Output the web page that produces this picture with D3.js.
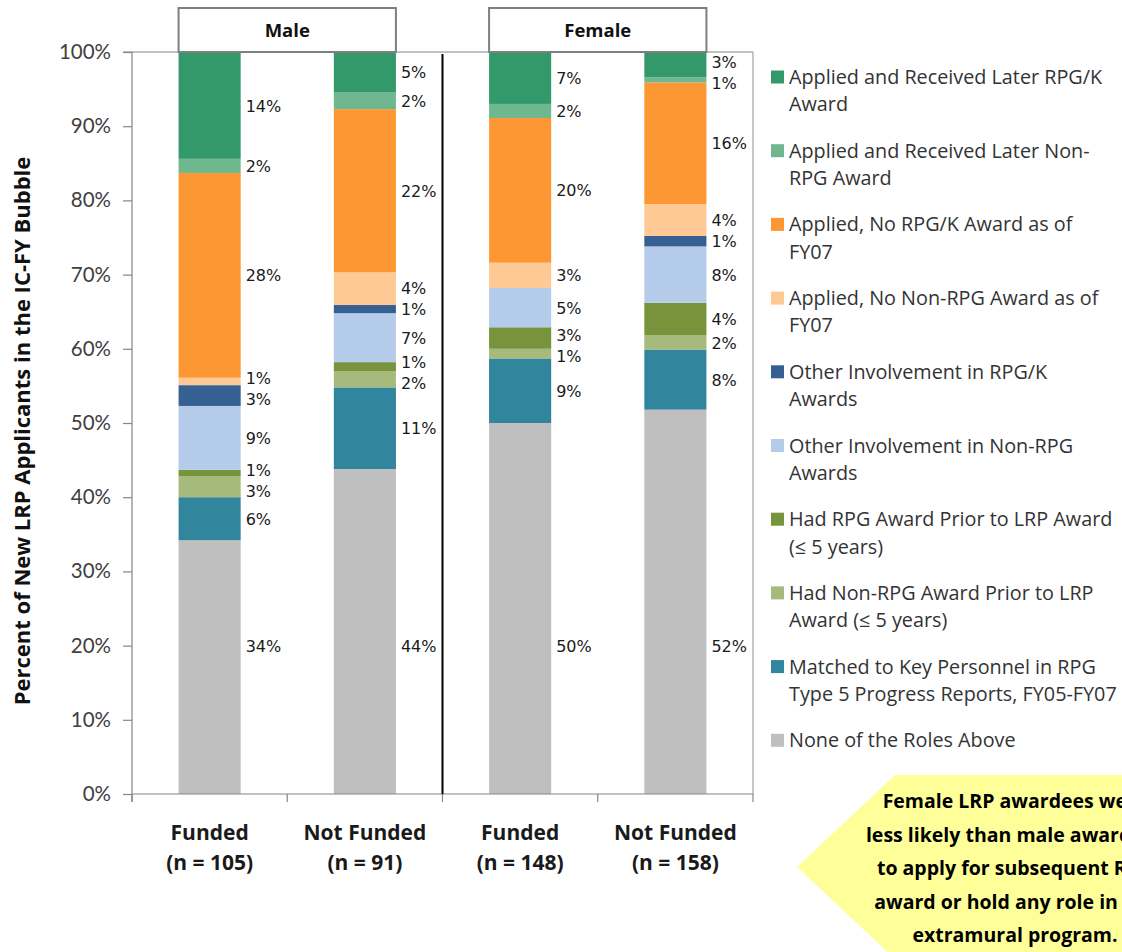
<!DOCTYPE html>
<html>
<head>
<meta charset="utf-8">
<script src="https://cdn.jsdelivr.net/npm/d3@7"></script>
<style>
  html, body { margin: 0; padding: 0; background: #fff; }
  svg { display: block; }
</style>
</head>
<body>
<script>
// ---------------- DATA ----------------
const categories = ["Funded", "Not Funded", "Funded", "Not Funded"];
const sampleSizes = ["(n = 105)", "(n = 91)", "(n = 148)", "(n = 158)"];
const groups = ["Male", "Male", "Female", "Female"];

// series, bottom-up stacking order (percent of applicants)
const noneOfRoles        = [34.2, 43.8, 50.0, 51.8];
const matchedKeyPersonnel = [5.8, 11.0, 8.7, 8.1];
const nonRpgPrior        = [2.8, 2.2, 1.3, 1.9];
const rpgPrior           = [0.9, 1.2, 2.9, 4.4];
const otherNonRpg        = [8.6, 6.6, 5.3, 7.6];
const otherRpgK          = [2.8, 1.1, 0.0, 1.4];
const appliedNoNonRpg    = [1.0, 4.4, 3.4, 4.3];
const appliedNoRpgK      = [27.6, 22.0, 19.5, 16.4];
const laterNonRpg        = [1.9, 2.3, 1.9, 0.7];
const laterRpgK          = [14.4, 5.4, 7.0, 3.4];

const seriesKeys = ["none", "matched", "nonRpgPrior", "rpgPrior", "otherNonRpg",
                    "otherRpgK", "appliedNoNonRpg", "appliedNoRpgK", "laterNonRpg", "laterRpgK"];
const seriesValues = [noneOfRoles, matchedKeyPersonnel, nonRpgPrior, rpgPrior, otherNonRpg,
                      otherRpgK, appliedNoNonRpg, appliedNoRpgK, laterNonRpg, laterRpgK];
const seriesNames = [
  "None of the Roles Above",
  "Matched to Key Personnel in RPG\nType 5 Progress Reports, FY05-FY07",
  "Had Non-RPG Award Prior to LRP\nAward (\u2264 5 years)",
  "Had RPG Award Prior to LRP Award\n(\u2264 5 years)",
  "Other Involvement in Non-RPG\nAwards",
  "Other Involvement in RPG/K\nAwards",
  "Applied, No Non-RPG Award as of\nFY07",
  "Applied, No RPG/K Award as of\nFY07",
  "Applied and Received Later Non-\nRPG Award",
  "Applied and Received Later RPG/K\nAward"
];
const seriesColors = ["#BFBFBF", "#31859C", "#A6BA7C", "#77933C", "#B4CCEA",
                      "#365F92", "#FFC995", "#FD9733", "#6FB88F", "#34996A"];

const yTicks = [0, 10, 20, 30, 40, 50, 60, 70, 80, 90, 100];
const yTitle = "Percent of New LRP Applicants in the IC-FY Bubble";
const calloutLines = ["Female LRP awardees were", "less likely than male awardees",
                      "to apply for subsequent RPG", "award or hold any role in the",
                      "extramural program."];

// ---------------- LAYOUT ----------------
const W = 1122, H = 952;
const plot = { left: 132, right: 753, top: 52, bottom: 794 };
const axisColor = "#868686";
const tickFont = "Lato, 'Open Sans', sans-serif";
const sansFont = "'Open Sans', Lato, sans-serif";
const labelFont = "'DejaVu Sans', sans-serif";

const svg = d3.select("body").append("svg").attr("width", W).attr("height", H);

const idx = categories.map((c, i) => i);
const table = idx.map(i => {
  const row = { i };
  seriesKeys.forEach((k, s) => row[k] = seriesValues[s][i]);
  return row;
});

const x = d3.scaleBand().domain(idx).range([plot.left, plot.right])
  .paddingInner(0.6).paddingOuter(0.3);
const y = d3.scaleLinear().domain([0, 100]).range([plot.bottom, plot.top]);
const color = d3.scaleOrdinal().domain(seriesKeys).range(seriesColors);

const stacked = d3.stack().keys(seriesKeys)(table);

// plot-area border (top and right)
svg.append("line").attr("x1", plot.left).attr("x2", plot.right)
  .attr("y1", plot.top).attr("y2", plot.top).attr("stroke", axisColor).attr("stroke-width", 1.2);
svg.append("line").attr("x1", plot.right).attr("x2", plot.right)
  .attr("y1", plot.top).attr("y2", plot.bottom).attr("stroke", "#a0a0a0").attr("stroke-width", 1.2);

// bars
const gBars = svg.append("g");
stacked.forEach(layer => {
  gBars.append("g").attr("fill", color(layer.key))
    .selectAll("rect").data(layer).join("rect")
    .attr("x", d => x(d.data.i))
    .attr("width", x.bandwidth())
    .attr("y", d => y(d[1]))
    .attr("height", d => Math.max(0, y(d[0]) - y(d[1])));
});

// Y axis
const yAxis = d3.axisLeft(y).tickValues(yTicks).tickFormat(d => d + "%").tickSize(9).tickPadding(12);
const gy = svg.append("g").attr("transform", `translate(${plot.left},0)`).call(yAxis);
gy.select(".domain").attr("stroke", axisColor).attr("stroke-width", 1.2)
  .attr("d", `M-9,${plot.top}H0V${plot.bottom + 8}`);
gy.selectAll(".tick line").attr("stroke", axisColor).attr("stroke-width", 1.2);
gy.selectAll(".tick text").attr("font-family", tickFont).attr("font-size", 20.5)
  .attr("fill", "#404040");

// X axis line and boundary ticks
svg.append("line").attr("x1", plot.left).attr("x2", plot.right)
  .attr("y1", plot.bottom).attr("y2", plot.bottom).attr("stroke", axisColor).attr("stroke-width", 1.2);
const boundaries = d3.range(categories.length + 1).map(k => plot.left + k * x.step());
svg.append("g").selectAll("line").data(boundaries).join("line")
  .attr("x1", d => d).attr("x2", d => d)
  .attr("y1", plot.bottom).attr("y2", plot.bottom + 8)
  .attr("stroke", axisColor).attr("stroke-width", 1.2);

// X category labels
const gx = svg.append("g");
idx.forEach(i => {
  const cx = x(i) + x.bandwidth() / 2;
  const t = gx.append("text").attr("x", cx).attr("text-anchor", "middle")
    .attr("font-family", sansFont).attr("font-weight", "bold").attr("font-size", 21)
    .attr("fill", "#1a1a1a");
  t.append("tspan").attr("x", cx).attr("y", 840).text(categories[i]);
  t.append("tspan").attr("x", cx).attr("y", 870).text(sampleSizes[i]);
});

// group separator (black line between Male and Female)
svg.append("line")
  .attr("x1", boundaries[2]).attr("x2", boundaries[2])
  .attr("y1", plot.top + 2).attr("y2", plot.bottom)
  .attr("stroke", "#000").attr("stroke-width", 2);

// group headers
const groupNames = Array.from(new Set(groups));
groupNames.forEach(g => {
  const members = idx.filter(i => groups[i] === g);
  const x0 = x(members[0]);
  const x1 = x(members[members.length - 1]) + x.bandwidth();
  svg.append("rect").attr("x", x0).attr("y", 8).attr("width", x1 - x0).attr("height", plot.top - 8)
    .attr("fill", "#fff").attr("stroke", "#7f7f7f").attr("stroke-width", 2);
  svg.append("text").attr("x", (x0 + x1) / 2).attr("y", 37).attr("text-anchor", "middle")
    .attr("font-family", sansFont).attr("font-weight", "bold").attr("font-size", 18.5)
    .attr("fill", "#111").text(g);
});

// data labels
const gLabels = svg.append("g");
idx.forEach(i => {
  let labels = [];
  stacked.forEach(layer => {
    const d = layer[i];
    const v = d[1] - d[0];
    if (v <= 0) return;
    const yy = layer.key === "none" ? y(20) : (y(d[0]) + y(d[1])) / 2;
    labels.push({ y: yy, text: Math.round(v) + "%" });
  });
  labels.sort((a, b) => a.y - b.y);
  const gap = 21;
  for (let it = 0; it < 200; it++) {
    for (let k = 0; k < labels.length - 1; k++) {
      const o = gap - (labels[k + 1].y - labels[k].y);
      if (o > 0) { labels[k].y -= o / 2; labels[k + 1].y += o / 2; }
    }
  }
  labels.forEach(l => {
    gLabels.append("text").attr("x", x(i) + x.bandwidth() + 5).attr("y", l.y).attr("dy", "0.38em")
      .attr("font-family", labelFont).attr("font-size", 16).attr("fill", "#1a1a1a").text(l.text);
  });
});

// y title
svg.append("text")
  .attr("transform", `translate(30,${(plot.top + plot.bottom) / 2 + 8}) rotate(-90)`)
  .attr("text-anchor", "middle").attr("font-family", sansFont).attr("font-weight", "bold")
  .attr("font-size", 22).attr("fill", "#111").text(yTitle);

// legend (top-down reverse of stack order)
const legend = svg.append("g");
const legendOrder = seriesKeys.map((k, s) => s).reverse();
legendOrder.forEach((s, r) => {
  const cy = 77 + r * 73.7;
  legend.append("rect").attr("x", 771).attr("y", cy - 6.5).attr("width", 13).attr("height", 13)
    .attr("fill", seriesColors[s]);
  const t = legend.append("text").attr("font-family", sansFont).attr("font-size", 19.8).attr("fill", "#333");
  seriesNames[s].split("\n").forEach((line, j) => {
    t.append("tspan").attr("x", 789).attr("y", cy + 7 + j * 27.3).text(line);
  });
});

// callout arrow
const tipX = 797, tipY = 867, shoulderX = 895, topY = 775, botY = 959;
svg.append("path")
  .attr("d", `M${tipX},${tipY}L${shoulderX},${topY}L${W + 10},${topY}L${W + 10},${botY}L${shoulderX},${botY}Z`)
  .attr("fill", "#FFFF99");
const ct = svg.append("text").attr("text-anchor", "middle").attr("font-family", sansFont)
  .attr("font-weight", "bold").attr("font-size", 19.5).attr("fill", "#000");
calloutLines.forEach((line, j) => {
  ct.append("tspan").attr("x", 1015).attr("y", 808 + j * 33.6).text(line);
});
</script>
</body>
</html>
